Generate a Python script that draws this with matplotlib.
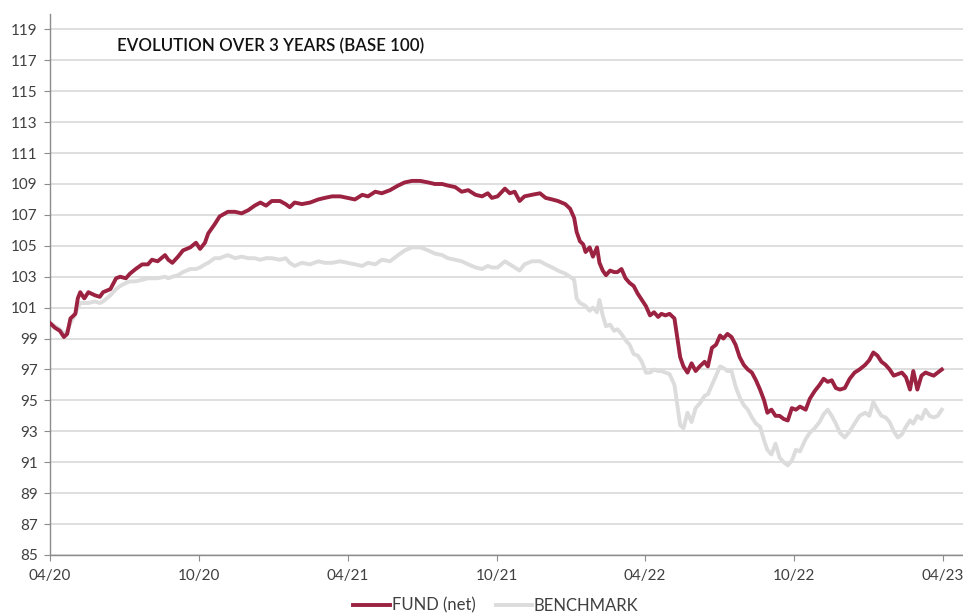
import pandas as pd
import matplotlib
matplotlib.use("Agg")
import matplotlib.pyplot as plt
import matplotlib.dates as mdates

start_date = "2020-04-30"
day_offsets = [0, 6, 12, 17, 21, 25, 31, 34, 37, 42, 47, 55, 61, 65, 74, 81, 86, 93, 98, 105,
               113, 120, 125, 132, 141, 145, 150, 157, 163, 172, 179, 184, 190, 194, 202, 208, 218, 227, 235, 243,
               251, 258, 265, 272, 282, 289, 294, 300, 309, 319, 329, 337, 346, 356, 365, 374, 383, 390, 399, 407,
               417, 427, 435, 444, 454, 464, 472, 481, 488, 497, 505, 513, 522, 530, 537, 542, 549, 558, 564, 570,
               576, 582, 591, 601, 608, 616, 623, 632, 638, 643, 646, 650, 654, 657, 662, 666, 671, 674, 678, 682,
               687, 692, 696, 701, 706, 711, 716, 721, 726, 731, 736, 741, 746, 750, 755, 760, 766, 773, 777, 782,
               787, 792, 797, 803, 807, 812, 817, 822, 826, 831, 836, 841, 846, 851, 856, 861, 866, 871, 876, 880,
               885, 890, 895, 900, 905, 910, 915, 920, 927, 932, 938, 944, 949, 954, 959, 964, 969, 975, 981, 987,
               993, 1000, 1005, 1010, 1015, 1020, 1025, 1030, 1035, 1040, 1045, 1050, 1055, 1059, 1064, 1069, 1074, 1079, 1084, 1089,
               1094]

fund_values = [100.0, 99.7, 99.5, 99.1, 99.3, 100.3, 100.6, 101.6, 102.0, 101.6, 102.0, 101.8, 101.7, 102.0, 102.2, 102.9, 103.0, 102.9, 103.2, 103.5,
               103.8, 103.8, 104.1, 104.0, 104.4, 104.1, 103.9, 104.3, 104.7, 104.9, 105.2, 104.8, 105.2, 105.8, 106.4, 106.9, 107.2, 107.2, 107.1, 107.3,
               107.6, 107.8, 107.6, 107.9, 107.9, 107.7, 107.5, 107.8, 107.7, 107.8, 108.0, 108.1, 108.2, 108.2, 108.1, 108.0, 108.3, 108.2, 108.5, 108.4,
               108.6, 108.9, 109.1, 109.2, 109.2, 109.1, 109.0, 109.0, 108.9, 108.8, 108.5, 108.6, 108.3, 108.2, 108.4, 108.1, 108.2, 108.7, 108.4, 108.5,
               107.9, 108.2, 108.3, 108.4, 108.1, 108.0, 107.9, 107.7, 107.4, 106.8, 105.9, 105.3, 105.1, 104.6, 104.9, 104.3, 104.9, 103.9, 103.4, 103.1,
               103.4, 103.3, 103.3, 103.5, 102.9, 102.6, 102.4, 101.9, 101.5, 101.1, 100.5, 100.7, 100.4, 100.6, 100.5, 100.6, 100.3, 97.8, 97.2, 96.8,
               97.4, 96.9, 97.2, 97.5, 97.2, 98.4, 98.6, 99.2, 99.0, 99.3, 99.1, 98.6, 97.8, 97.3, 97.0, 96.8, 96.3, 95.7, 95.0, 94.2,
               94.4, 94.0, 94.0, 93.8, 93.7, 94.5, 94.4, 94.6, 94.4, 95.1, 95.6, 96.0, 96.4, 96.2, 96.3, 95.8, 95.7, 95.8, 96.4, 96.8,
               97.0, 97.3, 97.6, 98.1, 97.9, 97.5, 97.3, 97.0, 96.6, 96.7, 96.8, 96.5, 95.7, 96.9, 95.7, 96.6, 96.8, 96.7, 96.6, 96.8,
               97.0]

benchmark_values = [100.0, 99.8, 99.6, 99.3, 99.5, 100.0, 100.6, 101.0, 101.3, 101.3, 101.3, 101.4, 101.3, 101.4, 101.8, 102.2, 102.4, 102.6, 102.7, 102.7,
                    102.8, 102.9, 102.9, 102.9, 103.0, 102.9, 103.0, 103.1, 103.3, 103.5, 103.5, 103.6, 103.8, 103.9, 104.2, 104.2, 104.4, 104.2, 104.3, 104.2,
                    104.2, 104.1, 104.2, 104.2, 104.1, 104.2, 103.9, 103.7, 103.9, 103.8, 104.0, 103.9, 103.9, 104.0, 103.9, 103.8, 103.7, 103.9, 103.8, 104.1,
                    104.0, 104.4, 104.7, 104.9, 104.9, 104.7, 104.5, 104.4, 104.2, 104.1, 104.0, 103.8, 103.6, 103.5, 103.7, 103.6, 103.6, 104.0, 103.8, 103.6,
                    103.4, 103.8, 104.0, 104.0, 103.8, 103.6, 103.4, 103.2, 103.0, 102.8, 101.6, 101.3, 101.2, 101.1, 100.8, 101.0, 100.7, 101.5, 100.5, 99.8,
                    99.9, 99.5, 99.6, 99.3, 98.9, 98.6, 98.0, 97.9, 97.5, 96.8, 96.8, 97.0, 96.9, 96.9, 96.8, 96.7, 96.0, 93.4, 93.2, 94.2,
                    93.6, 94.5, 94.8, 95.3, 95.4, 96.0, 96.6, 97.2, 97.1, 96.9, 96.9, 95.9, 95.2, 94.7, 94.4, 93.9, 93.5, 93.3, 92.4, 91.8,
                    91.5, 92.2, 91.3, 91.0, 90.8, 91.1, 91.8, 91.7, 92.5, 92.9, 93.2, 93.6, 94.1, 94.4, 94.0, 93.5, 92.9, 92.6, 93.0, 93.5,
                    94.0, 94.2, 94.0, 94.9, 94.4, 94.0, 93.9, 93.6, 93.0, 92.6, 92.8, 93.3, 93.7, 93.5, 94.0, 93.8, 94.4, 94.0, 93.9, 94.0,
                    94.4]

y_ticks = list(range(85, 120, 2))
x_tick_labels = ["04/20", "10/20", "04/21", "10/21", "04/22", "10/22", "04/23"]
title = "EVOLUTION OVER 3 YEARS (BASE 100)"
series_names = ["FUND (net)", "BENCHMARK"]

assert len(day_offsets) == len(fund_values) == len(benchmark_values)

t0 = pd.Timestamp(start_date)
dates = [t0 + pd.Timedelta(days=d) for d in day_offsets]
tick_dates = [t0 + pd.DateOffset(months=6 * k) for k in range(len(x_tick_labels))]

plt.rcParams['font.family'] = ['Lato', 'DejaVu Sans']

fig = plt.figure(figsize=(9.63, 6.15), dpi=100)
ax = fig.add_axes([0.052, 0.0976, 0.948, 0.8797])

fund_color = '#9c2242'
bench_color = '#dcdcdc'
ax.plot(dates, benchmark_values, color=bench_color, lw=2.8, label=series_names[1], zorder=3,
        solid_joinstyle='round')
ax.plot(dates, fund_values, color=fund_color, lw=2.8, label=series_names[0], zorder=4,
        solid_joinstyle='round')

ax.set_ylim(85, 120)
ax.set_yticks(y_ticks)
ax.set_yticklabels([str(v) for v in y_ticks])
ax.set_xlim(t0, t0 + pd.Timedelta(days=1120))
ax.set_xticks(tick_dates)
ax.set_xticklabels(x_tick_labels)

ax.yaxis.grid(True, color='#d9d9d9', lw=1.2)
ax.set_axisbelow(True)
for s in ['top', 'right']:
    ax.spines[s].set_visible(False)
for s in ['left', 'bottom']:
    ax.spines[s].set_color('#8c8c8c')
    ax.spines[s].set_linewidth(1.0)
ax.tick_params(axis='both', colors='#8c8c8c', labelcolor='#404040', labelsize=11, length=4, width=0.8)
ax.tick_params(axis='y', pad=5)
ax.tick_params(axis='x', pad=6)

ax.text(0.073, 0.94, title, transform=ax.transAxes, fontsize=12.2, color='#111111',
        va='center', ha='left', fontweight='semibold')

handles, labels = ax.get_legend_handles_labels()
order = [1, 0]
fig.legend([handles[i] for i in order], [labels[i] for i in order], loc='center',
           bbox_to_anchor=(0.515, 0.015), ncol=2, frameon=False, fontsize=12,
           handlelength=2.2, handletextpad=0.1, columnspacing=1.2, labelcolor='#404040')

fig.savefig('out.png', dpi=100)
